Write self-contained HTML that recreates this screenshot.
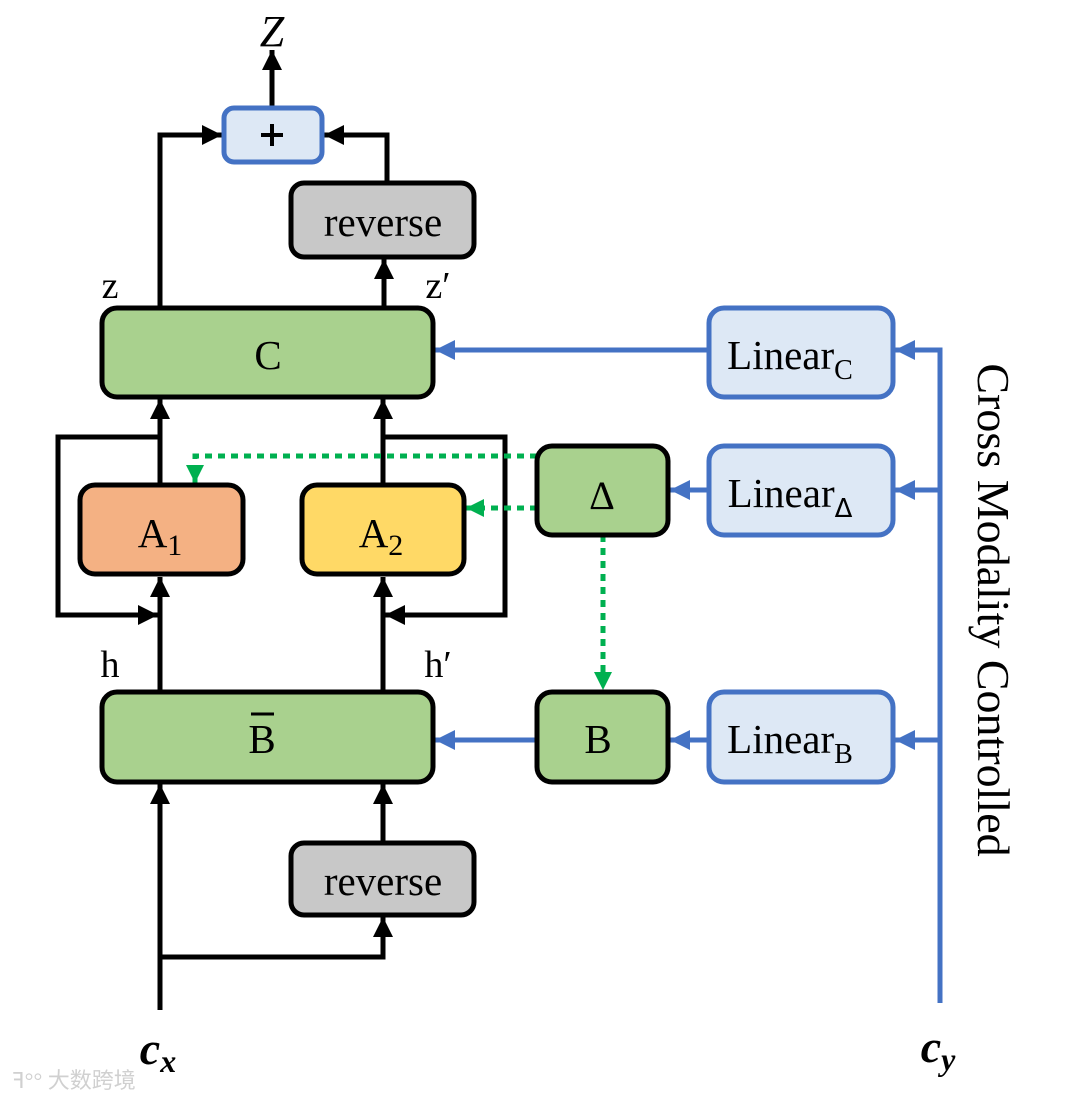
<!DOCTYPE html>
<html><head><meta charset="utf-8"><style>
html,body{margin:0;padding:0;background:#fff}
svg{display:block}
text{font-family:"Liberation Serif",serif;fill:#000}
</style></head><body>
<svg width="1080" height="1099" viewBox="0 0 1080 1099" xmlns="http://www.w3.org/2000/svg">
<defs>
<marker id="ak" markerUnits="userSpaceOnUse" markerWidth="24" markerHeight="24" refX="20" refY="12" orient="auto"><path d="M0,2 L20,12 L0,22 Z" fill="#000"/></marker>
<marker id="ab" markerUnits="userSpaceOnUse" markerWidth="24" markerHeight="24" refX="20" refY="12" orient="auto"><path d="M0,2 L20,12 L0,22 Z" fill="#4472c4"/></marker>
<marker id="ag" markerUnits="userSpaceOnUse" markerWidth="24" markerHeight="24" refX="18" refY="12" orient="auto"><path d="M0,3 L18,12 L0,21 Z" fill="#00b050"/></marker>
</defs>
<g fill="none" stroke="#000" stroke-width="5">
<path d="M272,108 V50" marker-end="url(#ak)"/>
<path d="M160,308 V135 H222" marker-end="url(#ak)"/>
<path d="M387,183 V135 H324" marker-end="url(#ak)"/>
<path d="M384,308 V259" marker-end="url(#ak)"/>
<path d="M160,485 V399" marker-end="url(#ak)"/>
<path d="M383,485 V399" marker-end="url(#ak)"/>
<path d="M160,692 V577" marker-end="url(#ak)"/>
<path d="M383,692 V577" marker-end="url(#ak)"/>
<path d="M160,437 H58 V615 H158" marker-end="url(#ak)"/>
<path d="M383,437 H505 V615 H385" marker-end="url(#ak)"/>
<path d="M160,1010 V784" marker-end="url(#ak)"/>
<path d="M160,957 H383 V917" marker-end="url(#ak)"/>
<path d="M383,843 V784" marker-end="url(#ak)"/>
</g>
<g fill="none" stroke="#4472c4" stroke-width="5">
<path d="M940,1003 V350 H895" marker-end="url(#ab)"/>
<path d="M940,490 H895" marker-end="url(#ab)"/>
<path d="M940,740 H895" marker-end="url(#ab)"/>
<path d="M709,350 H435" marker-end="url(#ab)"/>
<path d="M709,490 H670" marker-end="url(#ab)"/>
<path d="M709,740 H670" marker-end="url(#ab)"/>
<path d="M537,740 H435" marker-end="url(#ab)"/>
</g>
<g fill="none" stroke="#00b050" stroke-width="5" stroke-dasharray="7,6">
<path d="M537,456 H195 V483" marker-end="url(#ag)"/>
<path d="M537,508 H466" marker-end="url(#ag)"/>
<path d="M603,535 V690" marker-end="url(#ag)"/>
</g>
<g stroke-width="5">
<rect x="224" y="108" width="98" height="54" rx="10" fill="#dde8f5" stroke="#4472c4"/>
<rect x="291" y="183" width="183" height="74" rx="13" fill="#c8c8c8" stroke="#000"/>
<rect x="102" y="308" width="331" height="89" rx="15" fill="#a9d18e" stroke="#000"/>
<rect x="709" y="308" width="184" height="89" rx="15" fill="#dde8f5" stroke="#4472c4"/>
<rect x="80" y="485" width="163" height="89" rx="15" fill="#f4b183" stroke="#000"/>
<rect x="302" y="485" width="162" height="89" rx="15" fill="#ffd966" stroke="#000"/>
<rect x="537" y="446" width="131" height="89" rx="15" fill="#a9d18e" stroke="#000"/>
<rect x="709" y="446" width="184" height="89" rx="15" fill="#dde8f5" stroke="#4472c4"/>
<rect x="102" y="692" width="331" height="90" rx="15" fill="#a9d18e" stroke="#000"/>
<rect x="537" y="692" width="131" height="90" rx="15" fill="#a9d18e" stroke="#000"/>
<rect x="709" y="692" width="184" height="90" rx="15" fill="#dde8f5" stroke="#4472c4"/>
<rect x="291" y="843" width="183" height="72" rx="13" fill="#c8c8c8" stroke="#000"/>
</g>
<g stroke="#000" stroke-width="4">
<line x1="261" y1="135" x2="283" y2="135"/>
<line x1="272" y1="124" x2="272" y2="146"/>
<line x1="251" y1="714" x2="274" y2="714" stroke-width="3"/>
</g>
<g font-size="41" text-anchor="middle">
<text x="383" y="236">reverse</text>
<text x="268" y="369">C</text>
<text x="790" y="369">Linear<tspan font-size="28" dy="10">C</tspan></text>
<text x="160" y="547">A<tspan font-size="30" dy="8">1</tspan></text>
<text x="381" y="547">A<tspan font-size="30" dy="8">2</tspan></text>
<text x="602" y="509" font-family="DejaVu Sans" font-size="40">Δ</text>
<text x="790" y="507">Linear<tspan font-size="26" dy="10" font-family="DejaVu Sans">Δ</tspan></text>
<text x="262" y="753">B</text>
<text x="598" y="753">B</text>
<text x="790" y="753">Linear<tspan font-size="28" dy="10">B</tspan></text>
<text x="383" y="895">reverse</text>
<text x="110" y="298" font-size="38">z</text>
<text x="438" y="298" font-size="38">z′</text>
<text x="110" y="677" font-size="38">h</text>
<text x="438" y="677" font-size="38">h′</text>
<text x="272" y="46" font-style="italic" font-size="44">Z</text>
<text x="158" y="1064" font-style="italic" font-weight="bold" font-size="46">c<tspan font-size="32" dy="8">x</tspan></text>
<text x="938" y="1062" font-style="italic" font-weight="bold" font-size="46">c<tspan font-size="32" dy="8">y</tspan></text>
</g>
<text transform="translate(978,610) rotate(90)" text-anchor="middle" font-size="46">Cross Modality Controlled</text>
<text x="12" y="1088" font-family="Liberation Sans, 'Noto Sans CJK SC', sans-serif" font-size="22" style="fill:#d0d0d0">ꟻ°° 大数跨境</text>
</svg>
</body></html>
